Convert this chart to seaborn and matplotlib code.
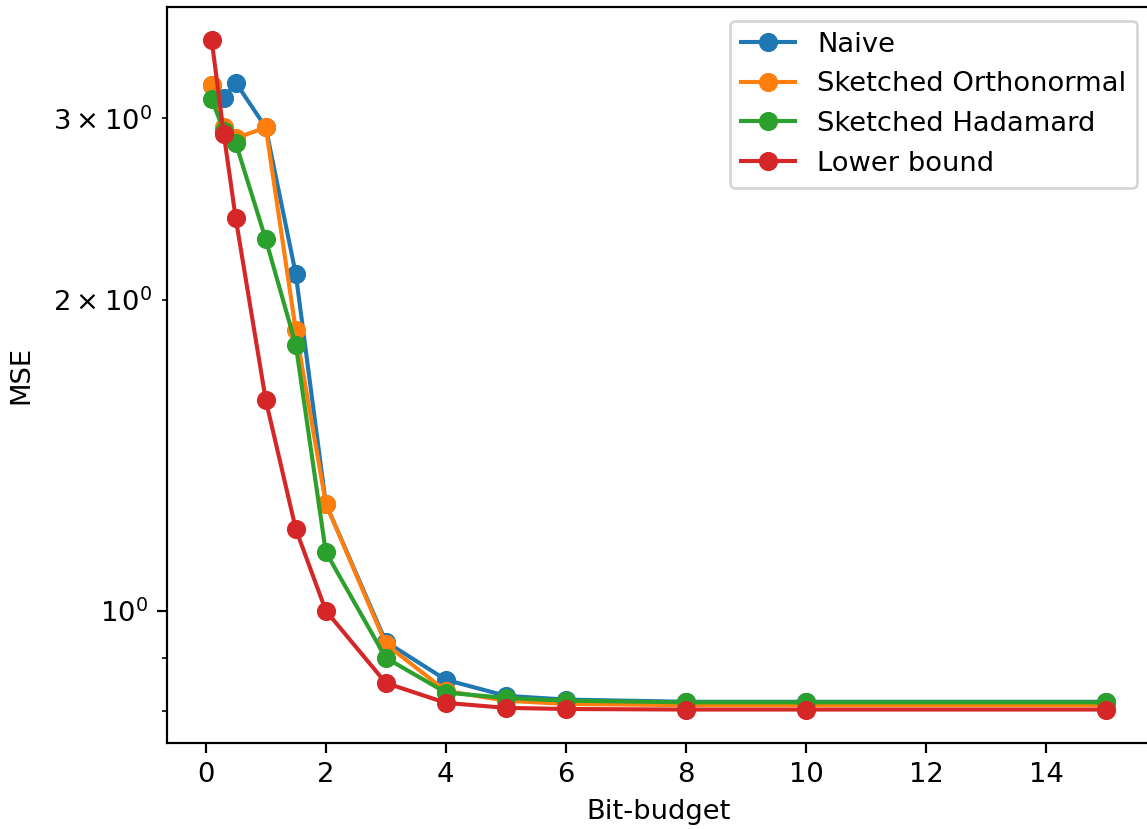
import numpy as np
import pandas as pd
import matplotlib
matplotlib.use("Agg")
import matplotlib.pyplot as plt
import seaborn as sns

bit_budget = [0.1, 0.3, 0.5, 1, 1.5, 2, 3, 4, 5, 6, 8, 10, 15]
naive = [3.23, 3.14, 3.25, 2.94, 2.12, 1.27, 0.933, 0.857, 0.827, 0.820, 0.816, 0.816, 0.816]
sketched_orthonormal = [3.23, 2.94, 2.87, 2.94, 1.87, 1.27, 0.928, 0.836, 0.818, 0.812, 0.810, 0.810, 0.810]
sketched_hadamard = [3.13, 2.92, 2.84, 2.29, 1.81, 1.14, 0.900, 0.833, 0.823, 0.818, 0.815, 0.815, 0.815]
lower_bound = [3.57, 2.90, 2.40, 1.60, 1.20, 1.0, 0.851, 0.814, 0.805, 0.803, 0.802, 0.802, 0.802]
series_names = ["Naive", "Sketched Orthonormal", "Sketched Hadamard", "Lower bound"]

series_values = [naive, sketched_orthonormal, sketched_hadamard, lower_bound]
colors = sns.color_palette("tab10", 4)

DPI = 197
fig = plt.figure(figsize=(1147 / DPI, 829 / DPI), dpi=DPI)
ax = fig.add_axes([167/1147, 1 - 743/829, (1151 - 167)/1147, (743 - 7)/829])

for name, vals, c in zip(series_names, series_values, colors):
    df = pd.DataFrame({"Bit-budget": bit_budget, "MSE": vals})
    sns.lineplot(data=df, x="Bit-budget", y="MSE", ax=ax, color=c, marker="o",
                 markersize=6, markeredgecolor=c, markeredgewidth=1,
                 linewidth=1.5, label=name)

ax.set_yscale("log")
ax.set_xlabel("Bit-budget")
ax.set_ylabel("MSE", labelpad=7)
ax.spines["right"].set_visible(False)
ax.legend(loc="upper right")
fig.savefig("out.png", dpi=DPI)
